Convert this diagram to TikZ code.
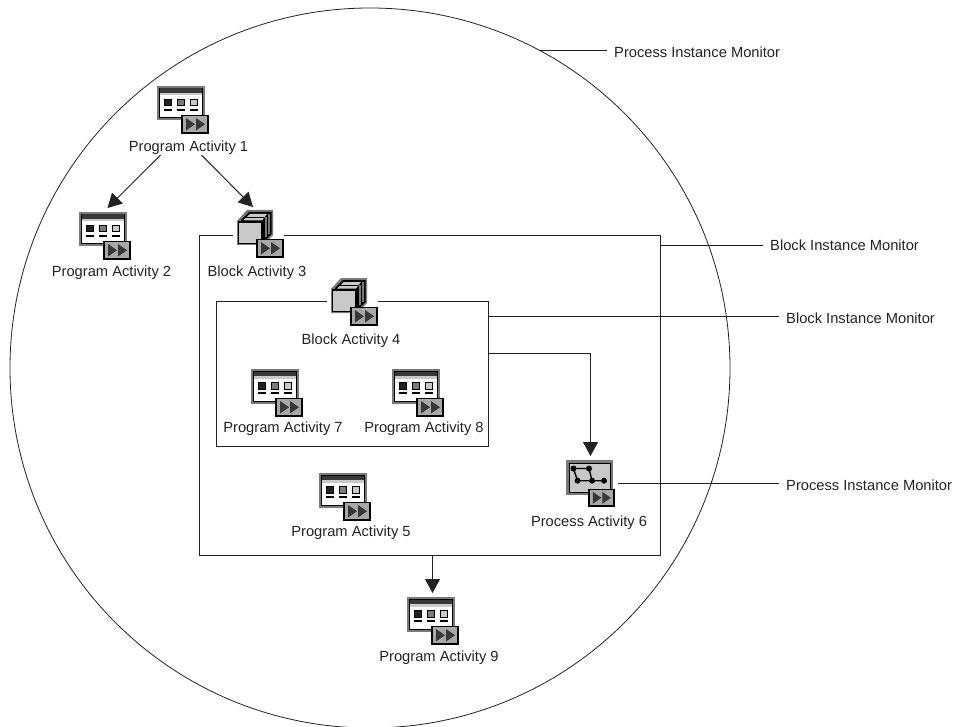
\documentclass[tikz,border=0pt]{standalone}
\usepackage{xcolor}
\usepackage{fontspec}
\setmainfont{Liberation Sans}
\usepackage{tikz}
\usetikzlibrary{arrows.meta}
\definecolor{ink}{HTML}{222222}
\definecolor{rim}{HTML}{7A7A7A}
\definecolor{pane}{HTML}{C8C8C8}
\definecolor{badge}{HTML}{A8A8A8}
\definecolor{darkpart}{HTML}{383838}
\tikzstyle{monitor} = [circle, draw=ink, line width=0.8pt, minimum size=720pt, inner sep=0pt, outer sep=0pt]
\tikzstyle{frame} = [rectangle, draw=ink, line width=0.8pt, inner sep=0pt, outer sep=0pt]
\tikzstyle{programbox} = [rectangle, minimum width=51pt, minimum height=47pt, inner sep=0pt, outer sep=0pt]
\tikzstyle{blockbox} = [rectangle, fill=white, minimum width=51pt, minimum height=48pt, inner sep=0pt, outer sep=0pt]
\tikzstyle{processbox} = [rectangle, minimum width=49pt, minimum height=46pt, inner sep=0pt, outer sep=0pt]
\tikzstyle{caption} = [text=ink, inner sep=0pt, font=\fontsize{14.7}{17}\selectfont]
\tikzstyle{tag} = [caption, anchor=west, inner xsep=7pt]
\tikzstyle{connect1} = [draw=ink, line width=1pt, -{Triangle[length=14pt,width=15pt]}]
\tikzstyle{leader} = [draw=ink, line width=0.8pt]
\tikzset{
  playbadge/.pic={
    \draw [black, line width=1.8pt, fill=badge] (0,0) rectangle (26,17.5);
    \fill [darkpart] (4,2.5) -- (13,8.75) -- (4,15) -- cycle;
    \fill [darkpart] (14,2.5) -- (23,8.75) -- (14,15) -- cycle;
  },
  programicon/.pic={
    \fill [rim] (0,0) rectangle (48,34.5);
    \draw [black, line width=1pt, fill=white] (2.5,2.5) rectangle (45.5,32);
    \fill [darkpart] (3,2.5) rectangle (45,7);
    \fill [pane] (3,7) rectangle (45,9.5);
    \draw [black, line width=1pt, fill=ink] (7.5,13.5) rectangle (14.5,20);
    \draw [black, line width=1pt, fill=rim] (20,13.5) rectangle (27,20);
    \draw [black, line width=1pt, fill=pane] (33.5,13.5) rectangle (40,20);
    \draw [black, line width=1.8pt] (7,24) -- (15,24) (19.5,24) -- (27.5,24) (33,24) -- (40.5,24);
    \pic at (25,29.5) {playbadge};
  },
  blockicon/.pic={
    \fill [rim] (4,11) -- (14,0) -- (40,0) -- (40,25) -- (30,35) -- (4,35) -- cycle;
    \fill [black] (8,10) -- (16,2) -- (38.5,2) -- (38.5,24) -- (30,33) -- (8,33) -- cycle;
    \fill [pane] (10,10.5) -- (17,4) -- (34,4) -- (29,10.5) -- cycle;
    \draw [black, line width=0.8pt] (13,7) -- (31,7);
    \draw [black, line width=1.8pt, fill=pane] (5.5,12) rectangle (29,33.5);
    \draw [rim, line width=1.2pt] (33,7) -- (33,27) (36,4) -- (36,24);
    \pic at (24,29.5) {playbadge};
  },
  processicon/.pic={
    \draw [rim, line width=2.6pt, fill=pane] (1.5,1.5) rectangle (45.5,34);
    \draw [black, line width=0.8pt] (3,3) rectangle (44,32.5);
    \draw [black, line width=1.4pt] (7.5,8.5) -- (23,8.5) -- (26,20.7) -- (38,20.7) (7.5,8.5) -- (11.5,20.7) -- (26,20.7);
    \foreach \dotx/\doty in {7.5/8.5, 23/8.5, 11.5/20.7, 26/20.7, 38/20.7}
      \fill [black] (\dotx,\doty) circle (3pt);
    \pic [scale=0.95] at (23,29.5) {playbadge};
  }
}
\begin{document}
\begin{tikzpicture}[x=1pt,y=-1pt]
	\useasboundingbox (0,0) rectangle (963,727);
	% the large monitor and the two frames
	\node (process1) [monitor] at (370,368) {};
	\node (frame3) [frame, minimum width=461pt, minimum height=320pt] at (429.5,395) {};
	\node (frame4) [frame, minimum width=272pt, minimum height=145pt] at (352,373.5) {};

	% icons
	\node (pa1) [programbox] at (182.5,109.5) {};
	\pic at (pa1.north west) {programicon};
	\node (pa2) [programbox] at (104.5,235.5) {};
	\pic at (pa2.north west) {programicon};
	\node (ba3) [blockbox] at (258.5,234) {};
	\pic at (ba3.north west) {blockicon};
	\node (ba4) [blockbox] at (352.5,302) {};
	\pic at (ba4.north west) {blockicon};
	\node (pa5) [programbox] at (344.5,496.5) {};
	\pic at (pa5.north west) {programicon};
	\node (pa6) [processbox] at (590.5,483) {};
	\pic at (pa6.north west) {processicon};
	\node (pa7) [programbox] at (276.5,392.5) {};
	\pic at (pa7.north west) {programicon};
	\node (pa8) [programbox] at (417.5,392.5) {};
	\pic at (pa8.north west) {programicon};
	\node (pa9) [programbox] at (432.5,620.5) {};
	\pic at (pa9.north west) {programicon};

	% captions under the icons
	\node (cap1) [caption] at (188.5,148) {Program Activity 1};
	\node (cap2) [caption] at (111.5,273) {Program Activity 2};
	\node (cap3) [caption] at (257,273) {Block Activity 3};
	\node (cap4) [caption] at (351,341) {Block Activity 4};
	\node (cap5) [caption] at (351,533) {Program Activity 5};
	\node (cap6) [caption] at (589,523) {Process Activity 6};
	\node (cap7) [caption] at (283,429) {Program Activity 7};
	\node (cap8) [caption] at (424,429) {Program Activity 8};
	\node (cap9) [caption] at (439,658) {Program Activity 9};

	% monitor names on the right
	\node (tag1) [tag] at (607,52) {Process Instance Monitor};
	\node (tag2) [tag] at (763,245) {Block Instance Monitor};
	\node (tag3) [tag] at (779,318) {Block Instance Monitor};
	\node (tag4) [tag] at (779,485) {Process Instance Monitor};

	% arrows
	\draw [connect1] ([xshift=-28pt]cap1.south) -- ([xshift=3pt,yshift=4pt]pa2.north);
	\draw [connect1] ([xshift=13pt]cap1.south) -- ([xshift=-5.5pt,yshift=3pt]ba3.north);
	\draw [connect1] ([yshift=20.5pt]frame4.east) -| ([yshift=4pt]pa6.north);
	\draw [connect1] (pa9.north |- frame3.south) -- ([yshift=4pt]pa9.north);

	% lines to the monitor names
	\draw [leader] (process1.62) -- (process1.62 -| tag1.west);
	\draw [leader] (frame3.east |- tag2.west) -- (tag2.west);
	\draw [leader] ([yshift=2pt]frame4.east |- tag3.west) -- ([yshift=2pt]tag3.west);
	\draw [leader] ([xshift=3pt]pa6.east) -- (pa6.east -| tag4.west);
\end{tikzpicture}
\end{document}
